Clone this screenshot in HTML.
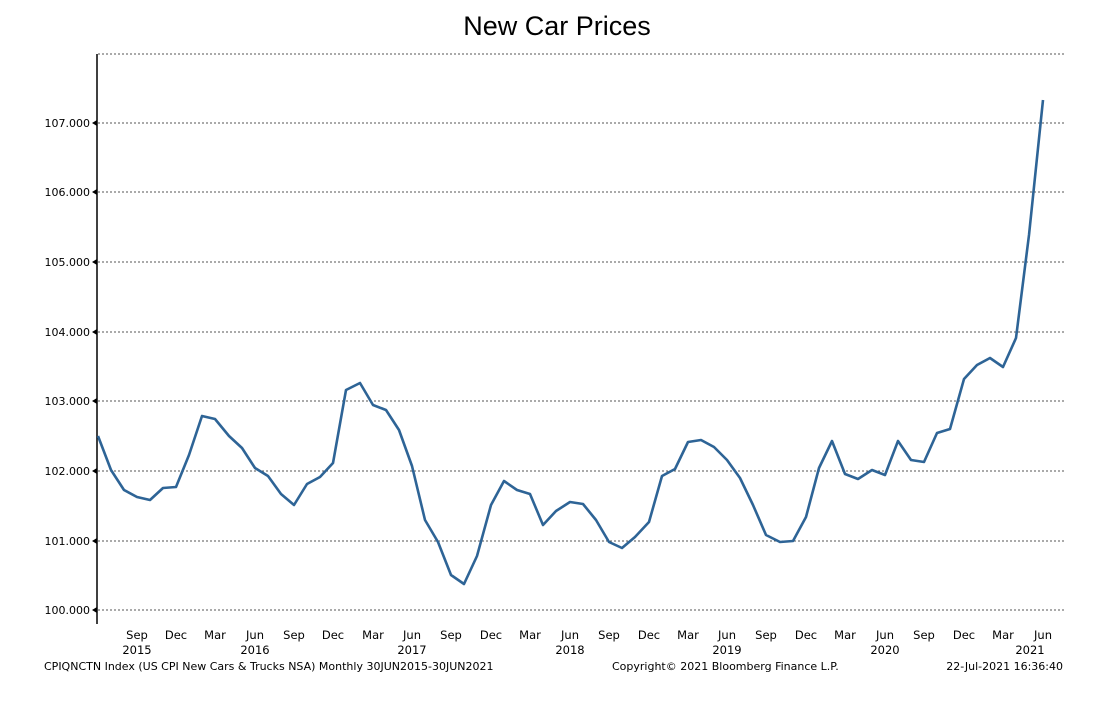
<!DOCTYPE html>
<html><head><meta charset="utf-8"><style>
html,body{margin:0;padding:0;background:#fff;}
</style></head><body>
<svg width="1118" height="696" viewBox="0 0 1118 696" xmlns="http://www.w3.org/2000/svg" font-family="'DejaVu Sans','Liberation Sans',sans-serif">
<text x="557" y="35" text-anchor="middle" font-family="'Liberation Sans',sans-serif" font-size="27" fill="#000">New Car Prices</text>
<g stroke="#555" stroke-width="1" stroke-dasharray="2,2">
<line x1="98" y1="54" x2="1066" y2="54"/>
<line x1="98" y1="123" x2="1066" y2="123"/>
<line x1="98" y1="192" x2="1066" y2="192"/>
<line x1="98" y1="262" x2="1066" y2="262"/>
<line x1="98" y1="332" x2="1066" y2="332"/>
<line x1="98" y1="401" x2="1066" y2="401"/>
<line x1="98" y1="471" x2="1066" y2="471"/>
<line x1="98" y1="541" x2="1066" y2="541"/>
<line x1="98" y1="610" x2="1066" y2="610"/>
</g>
<line x1="97" y1="54" x2="97" y2="624" stroke="#000" stroke-width="1.5"/>
<g font-size="11" fill="#000" text-anchor="end">
<text x="90" y="127">107.000</text>
<text x="90" y="196">106.000</text>
<text x="90" y="266">105.000</text>
<text x="90" y="336">104.000</text>
<text x="90" y="405">103.000</text>
<text x="90" y="475">102.000</text>
<text x="90" y="545">101.000</text>
<text x="90" y="614">100.000</text>
</g>
<g fill="#000">
<polygon points="92,123 97,120 97,126"/><polygon points="92,192 97,189 97,195"/><polygon points="92,262 97,259 97,265"/><polygon points="92,332 97,329 97,335"/><polygon points="92,401 97,398 97,404"/><polygon points="92,471 97,468 97,474"/><polygon points="92,541 97,538 97,544"/><polygon points="92,610 97,607 97,613"/>
</g>
<g font-size="11.5" fill="#000" text-anchor="middle">
<text x="137" y="639">Sep</text><text x="176" y="639">Dec</text><text x="215" y="639">Mar</text><text x="255" y="639">Jun</text>
<text x="294" y="639">Sep</text><text x="333" y="639">Dec</text><text x="373" y="639">Mar</text><text x="412" y="639">Jun</text>
<text x="451" y="639">Sep</text><text x="491" y="639">Dec</text><text x="530" y="639">Mar</text><text x="570" y="639">Jun</text>
<text x="609" y="639">Sep</text><text x="649" y="639">Dec</text><text x="688" y="639">Mar</text><text x="727" y="639">Jun</text>
<text x="766" y="639">Sep</text><text x="806" y="639">Dec</text><text x="845" y="639">Mar</text><text x="885" y="639">Jun</text>
<text x="924" y="639">Sep</text><text x="964" y="639">Dec</text><text x="1003" y="639">Mar</text><text x="1043" y="639">Jun</text>
<text x="137" y="654">2015</text><text x="255" y="654">2016</text><text x="412" y="654">2017</text><text x="570" y="654">2018</text><text x="727" y="654">2019</text><text x="885" y="654">2020</text><text x="1030" y="654">2021</text>
</g>
<g font-size="11" fill="#000">
<text x="44" y="670">CPIQNCTN Index (US CPI New Cars &amp; Trucks NSA)  Monthly 30JUN2015-30JUN2021</text>
<text x="612" y="670">Copyright© 2021 Bloomberg Finance L.P.</text>
<text x="1063" y="670" text-anchor="end">22-Jul-2021 16:36:40</text>
</g>
<polyline fill="none" stroke="#2e6496" stroke-width="2.6" stroke-linejoin="round" points="98,436 111,470 124,490 137,497 150,500 163,488 176,487 189,455 202,416 215,419 229,436 242,448 255,468 268,476 281,494 294,505 307,484 320,477 333,463 346,390 360,383 373,405 386,410 399,430 412,466 425,520 438,542 451,575 464,584 477,556 491,505 504,481 517,490 530,494 543,525 556,511 570,502 583,504 596,520 609,542 622,548 635,537 649,522 662,476 675,469 688,442 701,440 714,447 727,460 740,478 753,505 766,535 780,542 793,541 806,517 819,468 832,441 845,474 858,479 872,470 885,475 898,441 911,460 924,462 937,433 950,429 964,379 977,365 990,358 1003,367 1016,338 1029,235 1043,100"/>
</svg>
</body></html>
